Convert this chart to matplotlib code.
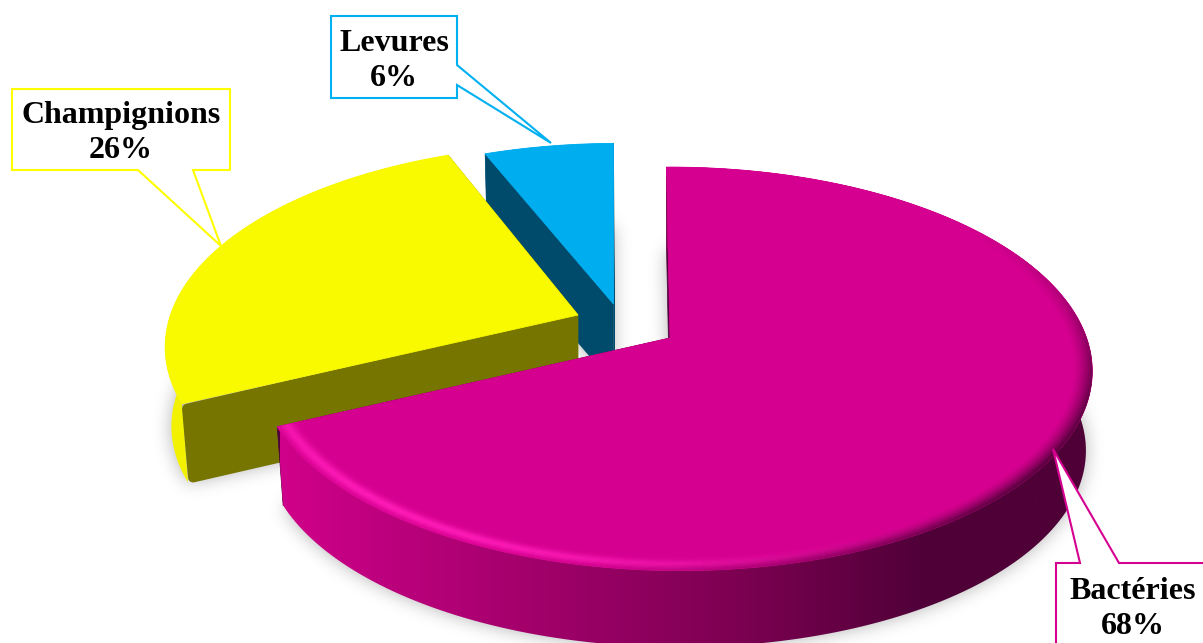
import numpy as np
import matplotlib
matplotlib.use('Agg')
import matplotlib.pyplot as plt
from matplotlib.collections import PolyCollection
from matplotlib.colors import LinearSegmentedColormap, to_rgb
from matplotlib.path import Path
from matplotlib.patches import Polygon

# Parts du camembert
categories = ['Bactéries', 'Champignions', 'Levures']
valeurs = [68, 26, 6]

couleurs = ['#D60090', '#F9F900', '#00ADEF']
couleurs_bord = ['#D60090', '#FFFF00', '#00B0F0']
couleurs_coupe = ['#50003A', '#757500', '#004A6B']

# Sommet de chaque part une fois éclatée, échelles et cisaillement
sommets = [(670, 338), (578, 315), (613.5, 304)]
echelles_x = [1.0, 1.0, 0.97]
echelles_y = [1.0, 1.0, 0.94]
cisaillements = [-4.0, 3.0, 0.0]

W, H = 1203, 643
A, B, K, M = 412, 197, 0.153, -0.011
EPAISSEUR = 80
RETRAIT = 0.985


def projeter(theta, i, r=1.0, bas=False):
    # theta en degrés, sens horaire depuis le haut
    t = np.radians(theta)
    X, Y = r * np.sin(t), r * np.cos(t)
    w = 1 + K * Y + M * X
    dx = (A * X + cisaillements[i] * Y) / w * echelles_x[i]
    dy = -B * Y / w * echelles_y[i]
    cx, cy = sommets[i]
    if bas:
        return np.column_stack([cx + dx * RETRAIT, cy + dy * RETRAIT + EPAISSEUR])
    return np.column_stack([cx + dx, cy + dy])


def melange(c1, c2, f):
    c1, c2 = np.array(to_rgb(c1)), np.array(to_rgb(c2))
    return c1 * (1 - f) + c2 * f


def flou(masque, sigma):
    x = np.arange(-3 * sigma, 3 * sigma + 1)
    noyau = np.exp(-x ** 2 / (2 * sigma ** 2))
    noyau /= noyau.sum()
    masque = np.apply_along_axis(lambda v: np.convolve(v, noyau, mode='same'), 0, masque)
    return np.apply_along_axis(lambda v: np.convolve(v, noyau, mode='same'), 1, masque)


fig = plt.figure(figsize=(W / 100, H / 100), dpi=100)
ax = fig.add_axes([0, 0, 1, 1])

# Angles de début et de fin calculés à partir des pourcentages
total = sum(valeurs)
bornes = np.cumsum([0] + valeurs) / total * 360

# Ombre portée floue sous les faces inférieures
gx, gy = np.meshgrid(np.arange(W) + 0.5, np.arange(H) + 0.5)
grille = np.column_stack([gx.ravel(), gy.ravel()])
masque = np.zeros((H, W))
for i in range(len(valeurs)):
    arc = projeter(np.linspace(bornes[i], bornes[i + 1], 150), i, bas=True)
    centre = projeter(np.array([0.0]), i, r=0.0, bas=True)
    contour = np.vstack([centre, arc])
    masque = np.maximum(masque, Path(contour).contains_points(grille).reshape(H, W).astype(float))
masque = flou(masque, 9)
ombre = np.zeros((H, W, 4))
ombre[..., 3] = masque * 0.3
ax.imshow(ombre, extent=(0, W, H, 0), zorder=1, interpolation='bilinear')

degrade_rose = LinearSegmentedColormap.from_list(
    'rose', [(0, '#D0008A'), (0.27, '#A8006F'), (0.56, '#7D0052'), (0.8, '#4E0037'), (1, '#4E0037')])

# Parts dessinées de la plus éloignée à la plus proche
for i in [2, 1, 0]:
    debut, fin = bornes[i], bornes[i + 1]
    z = 2 + (2 - i)
    angles = np.linspace(debut, fin, 200)
    haut = projeter(angles, i)
    bas = projeter(angles, i, bas=True)
    c_haut = projeter(np.array([0.0]), i, r=0.0)
    c_bas = projeter(np.array([0.0]), i, r=0.0, bas=True)

    # Faces de coupe
    z_coupe = z + 0.05 if i > 0 else z
    for bord in (0, -1):
        pts = np.array([c_haut[0], haut[bord], bas[bord], c_bas[0]])
        epais = 0.5
        if i == 1 and bord == 0:
            # coin extérieur arrondi par un trait épais
            pts = pts + np.array([[-5, 5], [5, 5], [5, -5], [-5, -5]])
            epais = 7.2
        ax.add_patch(Polygon(pts, closed=True, facecolor=couleurs_coupe[i], edgecolor=couleurs_coupe[i],
                             lw=epais, joinstyle='round', zorder=z_coupe))

    # Face extérieure
    flanc = np.vstack([haut, bas[::-1]])
    if i == 0:
        cote = Polygon(flanc, closed=True, facecolor='none', edgecolor='none', transform=ax.transData)
        ax.add_patch(cote)
        grad = np.linspace(0, 1, 512).reshape(1, -1)
        im = ax.imshow(grad, extent=(280, 1095, H, 0), cmap=degrade_rose, vmin=0, vmax=1,
                       aspect='auto', zorder=z + 0.1)
        im.set_clip_path(cote)
    else:
        ax.add_patch(Polygon(flanc, closed=True, facecolor=melange(couleurs[i], '#000000', 0.03),
                             edgecolor='none', zorder=z))

    # Face supérieure
    ax.add_patch(Polygon(np.vstack([c_haut, haut]), closed=True, facecolor=couleurs[i],
                         edgecolor=couleurs[i], lw=0.6, zorder=z + 0.2))

    # Biseau sur le bord de la grande part
    if i == 0:
        rayons = np.linspace(0.94, 1.0, 14)
        quads, teintes = [], []
        pas = np.linspace(debut, fin, 260)
        for r1, r2 in zip(rayons[:-1], rayons[1:]):
            p1 = projeter(pas, i, r=r1)
            p2 = projeter(pas, i, r=r2)
            rm = (r1 + r2) / 2
            for k in range(len(pas) - 1):
                tm = (pas[k] + pas[k + 1]) / 2
                clair = max(0, np.cos(np.radians(tm - 215))) ** 2 * np.exp(-((rm - 0.978) / 0.016) ** 2)
                sombre = max(0, np.cos(np.radians(tm - 125))) ** 3 * np.clip((rm - 0.955) / 0.045, 0, 1) ** 1.5
                coul = melange(couleurs[0], '#FF1CB8', min(clair, 1))
                coul = melange(coul, '#4E0037', min(sombre, 1))
                quads.append([p1[k], p1[k + 1], p2[k + 1], p2[k]])
                teintes.append(coul)
        ax.add_collection(PolyCollection(quads, facecolors=teintes, edgecolors=teintes,
                                         linewidths=0.3, zorder=z + 0.3))

# Étiquettes : boîte avec pointe, puis texte
boites = [
    [(1056, 563), (1080, 563), (1053, 449), (1119, 563), (1230, 563), (1230, 670), (1056, 670)],
    [(12, 89), (230, 89), (230, 170), (193, 170), (221, 246), (138, 170), (12, 170)],
    [(331, 16), (457, 16), (457, 65), (551, 143), (457, 85), (457, 98), (331, 98)],
]
centres_texte = [(1133, 609), (121, 133), (394, 61)]

for i, nom in enumerate(categories):
    ax.add_patch(Polygon(boites[i], closed=True, facecolor='white', edgecolor=couleurs_bord[i],
                         lw=1.5, joinstyle='miter', zorder=10))
    ax.text(centres_texte[i][0], centres_texte[i][1], f'{nom}\n{valeurs[i]}%', ha='center', va='center',
            family='Liberation Serif', weight='bold', size=23, color='black',
            linespacing=1.28, zorder=11)

ax.set_xlim(0, W)
ax.set_ylim(H, 0)
ax.set_aspect('auto')
ax.axis('off')

fig.savefig('out.png', dpi=100, facecolor='white')
